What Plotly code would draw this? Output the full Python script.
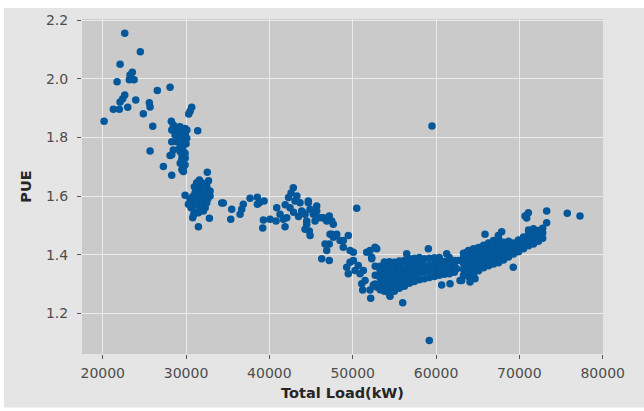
import plotly.graph_objects as go

# ---- data (Total Load kW vs PUE) ----
load_low = [20160, 21270, 21720, 21990, 22080, 22080, 22400, 22640, 22640, 23000, 23190, 23280,
            23480, 23550, 23760, 23960, 24510, 24870, 25590, 25680, 25680, 26000, 26550, 27280,
            28080, 28080, 28230, 28280]
pue_low = [1.855, 1.896, 1.990, 1.896, 2.050, 1.921, 1.932, 2.155, 1.945, 1.903, 1.997, 2.013,
           2.000, 2.022, 1.997, 1.928, 2.092, 1.881, 1.918, 1.904, 1.754, 1.838, 1.960, 1.701,
           1.971, 1.738, 1.855, 1.671]

load_c30 = [28470, 29280, 29880, 28280, 28680, 29480, 30080, 28280, 28880, 29680, 28470, 29280,
            29880, 28280, 29480, 29880, 29680, 29000, 29600, 29300, 29900, 29100, 29700, 29400,
            30000, 29200, 29600, 29500, 29900, 29300, 29700, 29500, 30100, 29100,
            30680, 30480, 30320, 31400, 32550,
            31280, 31880, 32480, 31480, 32080, 32880, 31080, 31680, 32280, 32880, 29880, 30480,
            31280, 31880, 32480, 31080, 31680, 32080, 31480, 30280, 30800, 31480, 32800,
            31000, 31600, 32200, 31400, 30800, 32600, 31200, 31800, 32300, 30600, 31000, 32700, 30900]
pue_c30 = [1.842, 1.836, 1.830, 1.825, 1.808, 1.808, 1.797, 1.785, 1.785, 1.774, 1.757, 1.752,
           1.746, 1.741, 1.724, 1.707, 1.684, 1.822, 1.822, 1.798, 1.812, 1.790, 1.790, 1.770,
           1.778, 1.762, 1.760, 1.740, 1.730, 1.712, 1.700, 1.690, 1.825, 1.835,
           1.903, 1.889, 1.880, 1.823, 1.681,
           1.645, 1.645, 1.633, 1.628, 1.622, 1.617, 1.611, 1.605, 1.600, 1.600, 1.603, 1.589,
           1.589, 1.583, 1.577, 1.572, 1.560, 1.549, 1.543, 1.572, 1.526, 1.495, 1.524,
           1.632, 1.655, 1.612, 1.600, 1.598, 1.590, 1.575, 1.566, 1.560, 1.560, 1.546, 1.652, 1.535]

load_mid = [34280, 34470, 35480, 35360, 36480, 36680, 36870, 37680, 38550, 38790, 39360, 38550,
            39280, 39200, 40080, 40880, 41280, 41680, 40800, 41880, 42080, 42480, 42870, 43080,
            43680, 43880, 44280, 44670, 44880, 45270, 45680, 45870, 44480, 44790, 44880, 45480,
            46470, 46880, 47190, 47670, 48080, 47480, 47190, 48480, 48870, 49470, 50480,
            44670, 44070, 45680, 46280, 47480, 44480, 44280, 47280, 47680, 46680, 46880, 46280,
            47190, 48870, 49680, 50080, 49280, 49470, 49680, 50080, 50280, 50670, 50880, 51280,
            51080, 51480, 51680, 52080, 52880, 52280, 51200, 52080, 52160, 52880,
            42600, 42300, 43300, 41900, 42900, 43500]
pue_mid = [1.576, 1.576, 1.555, 1.521, 1.538, 1.555, 1.572, 1.592, 1.596, 1.577, 1.583, 1.572,
           1.518, 1.491, 1.521, 1.560, 1.538, 1.521, 1.515, 1.495, 1.526, 1.560, 1.628, 1.583,
           1.577, 1.549, 1.538, 1.577, 1.555, 1.538, 1.566, 1.526, 1.515, 1.481, 1.465, 1.515,
           1.526, 1.515, 1.532, 1.504, 1.470, 1.470, 1.436, 1.448, 1.448, 1.465, 1.558,
           1.583, 1.543, 1.549, 1.526, 1.515, 1.504, 1.487, 1.470, 1.459, 1.436, 1.414, 1.386,
           1.380, 1.425, 1.414, 1.408, 1.357, 1.335, 1.374, 1.380, 1.346, 1.363, 1.335, 1.346,
           1.301, 1.312, 1.408, 1.414, 1.420, 1.391, 1.279, 1.279, 1.251, 1.290,
           1.610, 1.595, 1.600, 1.570, 1.545, 1.530]

load_c57 = [52700, 52700, 52700,
            53300, 53300, 53300, 53300, 53300,
            53800, 53800, 53800, 53800, 53800, 53800,
            54400, 54400, 54400, 54400, 54400, 54400, 54400,
            55000, 55000, 55000, 55000, 55000, 55000,
            55600, 55600, 55600, 55600, 55600, 55600,
            56200, 56200, 56200, 56200, 56200,
            56800, 56800, 56800, 56800, 56800,
            57400, 57400, 57400, 57400, 57400,
            58000, 58000, 58000, 58000, 58000,
            58600, 58600, 58600, 58600,
            59200, 59200, 59200, 59200,
            59800, 59800, 59800, 59800,
            60400, 60400, 60400, 60400,
            61000, 61000, 61000,
            61600, 61600, 61600, 61600,
            62200, 62200, 62200,
            52280, 52680, 56480, 59080, 61280, 60680, 61680, 62880, 62480, 53280, 52480, 54480, 63680]
pue_c57 = [1.300, 1.330, 1.360,
           1.280, 1.300, 1.320, 1.340, 1.360,
           1.275, 1.295, 1.315, 1.335, 1.355, 1.375,
           1.265, 1.285, 1.305, 1.325, 1.345, 1.365, 1.376,
           1.275, 1.295, 1.315, 1.335, 1.355, 1.374,
           1.285, 1.305, 1.325, 1.345, 1.365, 1.378,
           1.292, 1.315, 1.335, 1.355, 1.380,
           1.302, 1.325, 1.345, 1.365, 1.386,
           1.308, 1.330, 1.350, 1.370, 1.388,
           1.314, 1.338, 1.358, 1.378, 1.390,
           1.318, 1.342, 1.362, 1.386,
           1.322, 1.345, 1.365, 1.388,
           1.325, 1.348, 1.368, 1.389,
           1.330, 1.352, 1.372, 1.390,
           1.333, 1.355, 1.377,
           1.335, 1.356, 1.376, 1.390,
           1.340, 1.360, 1.380,
           1.386, 1.425, 1.403, 1.420, 1.403, 1.296, 1.301, 1.312, 1.352, 1.352, 1.296, 1.258, 1.408]

load_c68 = [63300, 63300, 63300, 63300, 63300,
            63900, 63900, 63900, 63900, 63900, 63900,
            64500, 64500, 64500, 64500, 64500, 64500,
            65100, 65100, 65100, 65100, 65100,
            65700, 65700, 65700, 65700, 65700,
            66300, 66300, 66300, 66300, 66300,
            66900, 66900, 66900, 66900, 66900,
            67500, 67500, 67500, 67500, 67500,
            68100, 68100, 68100, 68100,
            68700, 68700, 68700, 68700,
            69300, 69300, 69300,
            69900, 69900, 69900,
            70500, 70500, 70500,
            71100, 71100, 71100, 71100,
            71700, 71700, 71700, 71700,
            72300, 72300, 72300,
            72800, 72800, 72800,
            62680, 63080, 64080, 64680, 65880, 67480, 67880, 69270, 70680, 71080, 70880,
            73280, 73280, 75750, 77280]
pue_c68 = [1.330, 1.350, 1.370, 1.390, 1.405,
           1.325, 1.345, 1.365, 1.385, 1.405, 1.414,
           1.330, 1.350, 1.370, 1.390, 1.410, 1.420,
           1.345, 1.365, 1.385, 1.405, 1.424,
           1.355, 1.375, 1.395, 1.415, 1.432,
           1.362, 1.382, 1.402, 1.422, 1.440,
           1.368, 1.388, 1.408, 1.428, 1.448,
           1.372, 1.392, 1.412, 1.432, 1.455,
           1.382, 1.402, 1.422, 1.442,
           1.392, 1.412, 1.432, 1.446,
           1.402, 1.422, 1.440,
           1.410, 1.430, 1.450,
           1.420, 1.440, 1.460,
           1.430, 1.450, 1.470, 1.484,
           1.436, 1.456, 1.476, 1.488,
           1.446, 1.466, 1.482,
           1.456, 1.474, 1.490,
           1.380, 1.312, 1.307, 1.318, 1.470, 1.465, 1.478, 1.357, 1.532, 1.543, 1.525,
           1.549, 1.509, 1.541, 1.532]

load_out = [59516, 59190, 56000]
pue_out = [1.839, 1.107, 1.236]

x_ticks = [20000, 30000, 40000, 50000, 60000, 70000, 80000]
y_ticks = [1.2, 1.4, 1.6, 1.8, 2.0, 2.2]

loads = load_low + load_c30 + load_mid + load_c57 + load_c68 + load_out
pues = pue_low + pue_c30 + pue_mid + pue_c57 + pue_c68 + pue_out

fig = go.Figure(go.Scatter(
    x=loads, y=pues, mode="markers",
    marker=dict(size=7.5, color="#03579b", line=dict(width=0)),
    hoverinfo="skip"))

axis_common = dict(
    ticks="outside", ticklen=4, tickwidth=1, tickcolor="#555555",
    showgrid=True, gridcolor="#ebebeb", gridwidth=1.3,
    zeroline=False, showline=False,
    tickfont=dict(family="DejaVu Sans", size=14, color="#4d4d4d"),
)

fig.update_layout(
    width=644, height=411,
    margin=dict(l=82, r=41, t=16, b=56),
    paper_bgcolor="#e5e5e5",
    plot_bgcolor="#cacaca",
    showlegend=False,
    font=dict(family="DejaVu Sans"),
    xaxis=dict(range=[17510, 80040], tickvals=x_ticks,
               ticktext=[str(v) for v in x_ticks], ticklabelstandoff=2,
               title=dict(text="<b>Total Load(kW)</b>", standoff=8,
                          font=dict(family="DejaVu Sans", size=14.5, color="#262626")),
               **axis_common),
    yaxis=dict(range=[1.061, 2.204], tickvals=y_ticks,
               ticktext=["%.1f" % v for v in y_ticks], ticklabelstandoff=6,
               title=dict(text="<b>PUE</b>", standoff=10,
                          font=dict(family="DejaVu Sans", size=14.5, color="#262626")),
               **axis_common),
    shapes=[
        dict(type="rect", xref="paper", yref="paper", x0=-0.2, x1=1.1, y0=1.0325, y1=1.08,
             fillcolor="white", line=dict(width=0), layer="above"),
        dict(type="rect", xref="paper", yref="paper", x0=-0.2, x1=-0.1497, y0=-0.2, y1=1.08,
             fillcolor="white", line=dict(width=0), layer="above"),
        dict(type="rect", xref="paper", yref="paper", x0=-0.2, x1=1.1, y0=-0.2, y1=-0.1595,
             fillcolor="white", line=dict(width=0), layer="above"),
    ],
)

fig.write_html("out.html")
